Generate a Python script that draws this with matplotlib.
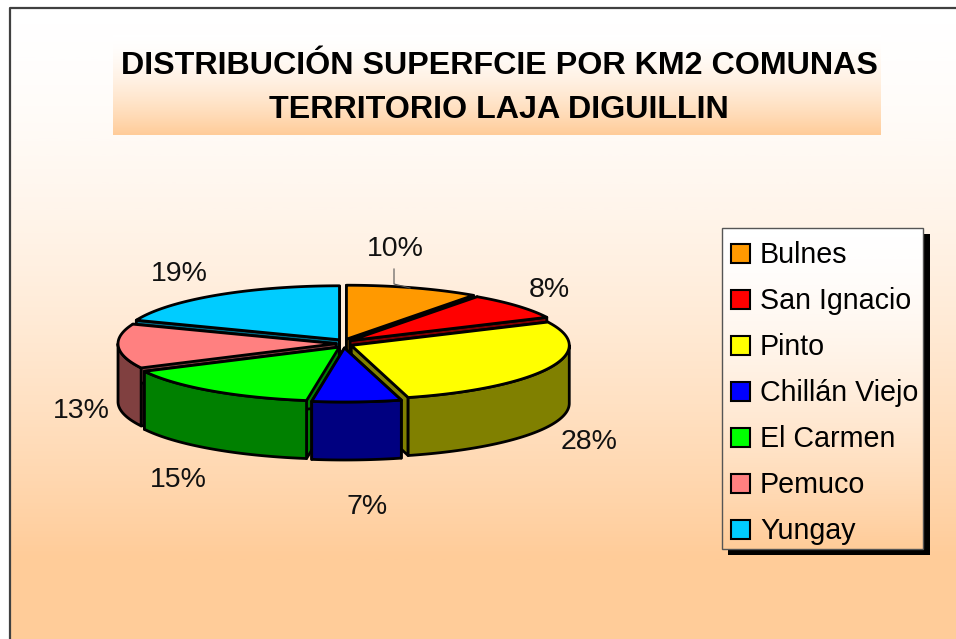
import numpy as np
import matplotlib
matplotlib.use('Agg')
import matplotlib.pyplot as plt
from matplotlib.patches import Polygon, Rectangle
from matplotlib.colors import LinearSegmentedColormap

comunas = ['Bulnes', 'San Ignacio', 'Pinto', 'Chillán Viejo', 'El Carmen', 'Pemuco', 'Yungay']
valores = [9.9, 8.0, 27.9, 6.6, 15.2, 13.3, 19.1]
top_colors = ['#FF9900', '#FF0000', '#FFFF00', '#0000FF', '#00FF00', '#FF8080', '#00CCFF']
side_colors = ['#804D00', '#800000', '#808000', '#000080', '#008000', '#804040', '#006680']
titulo = 'DISTRIBUCIÓN SUPERFCIE POR KM2 COMUNAS\nTERRITORIO LAJA DIGUILLIN'

W, H = 956, 639
plt.rcParams['font.family'] = ['Liberation Sans', 'DejaVu Sans']
grad = LinearSegmentedColormap.from_list('grad', ['#FFFFFF', '#FFCC99'])

# pie geometry, in pixels
CX, CY = 344, 343.5
RX, RY = 218, 54
DEPTH = 58
EXPLODE_X, EXPLODE_Y = 8, 4.5


def gradient(ax, x0, y0, x1, y1, z):
    # the fill stays pale for a while before it turns orange
    g = (np.linspace(0, 1, 256) ** 1.6).reshape(-1, 1)
    ax.imshow(g, cmap=grad, extent=[x0, x1, y1, y0], aspect='auto', zorder=z, vmin=0, vmax=1)


def rim(cx, cy, t):
    return np.column_stack([cx + RX * np.sin(t), cy - RY * np.cos(t)])


def draw_slice(ax, a0, a1, top, side, z):
    mid = (a0 + a1) / 2
    cx = CX + EXPLODE_X * np.sin(mid)
    cy = CY - EXPLODE_Y * np.cos(mid)
    edge = dict(edgecolor='black', linewidth=2.0, joinstyle='round')
    apex = np.array([cx, cy])
    down = np.array([0, DEPTH])
    # cut faces
    for a in (a0, a1):
        p = rim(cx, cy, np.array([a]))[0]
        ax.add_patch(Polygon([apex, p, p + down, apex + down], facecolor=side, zorder=z, **edge))
    # outer wall, only the front half is visible
    lo, hi = max(a0, np.pi / 2), min(a1, 3 * np.pi / 2)
    if hi > lo:
        arc = rim(cx, cy, np.linspace(lo, hi, 60))
        ax.add_patch(Polygon(np.vstack([arc, arc[::-1] + down]), facecolor=side, zorder=z + 0.1, **edge))
    arc = rim(cx, cy, np.linspace(a0, a1, 80))
    ax.add_patch(Polygon(np.vstack([apex, arc]), facecolor=top, zorder=z + 0.2, **edge))


fig = plt.figure(figsize=(W / 100, H / 100), dpi=100)
ax = fig.add_axes([0, 0, 1, 1])
ax.set_xlim(0, W)
ax.set_ylim(H, 0)
ax.axis('off')

# chart area
gradient(ax, 10, 8, W, 560, 0)
ax.add_patch(Rectangle((10, 560), W - 10, 90, facecolor='#FFCC99', edgecolor='none', zorder=0))
ax.plot([10, 10, W], [H, 8, 8], color='#404040', lw=1.6, zorder=1)

# title band
gradient(ax, 113, 35, 881, 135, 1)
ax.text(499, 88, titulo, ha='center', va='center', fontsize=23.2, fontweight='bold',
        color='black', linespacing=1.6, zorder=2)

# pie
bordes = np.cumsum([0] + valores) / sum(valores) * 2 * np.pi
orden = [0, 1, 6, 5, 2, 4, 3]
for k, i in enumerate(orden):
    draw_slice(ax, bordes[i], bordes[i + 1], top_colors[i], side_colors[i], 3 + k)

# data labels
pos_etiquetas = [(395, 249), (549, 290), (589, 442), (367, 507), (178, 480), (81, 411), (179, 274)]
for v, (x, y) in zip(valores, pos_etiquetas):
    ax.text(x, y, f'{v:.0f}%', ha='center', va='center', fontsize=20.5, color='#111111', zorder=20)
ax.plot([394, 394, 410], [269, 284, 288], color='#555555', lw=0.8, zorder=20)

# legend
ax.add_patch(Rectangle((728, 234), 202, 321, facecolor='black', edgecolor='none', zorder=21))
gradient(ax, 722, 228, 923, 549, 22)
ax.add_patch(Rectangle((722, 228), 201, 321, facecolor='none', edgecolor='#555555', lw=1, zorder=23))
for i, nombre in enumerate(comunas):
    y = 253 + i * 46
    ax.add_patch(Rectangle((731.5, y - 9.5), 19, 19, facecolor=top_colors[i], edgecolor='black', lw=1.5, zorder=23))
    ax.text(760, y + 2, nombre, ha='left', va='center', fontsize=20.6, color='black', zorder=23)

ax.set_xlim(0, W)
ax.set_ylim(H, 0)
fig.savefig('out.png', dpi=100)
